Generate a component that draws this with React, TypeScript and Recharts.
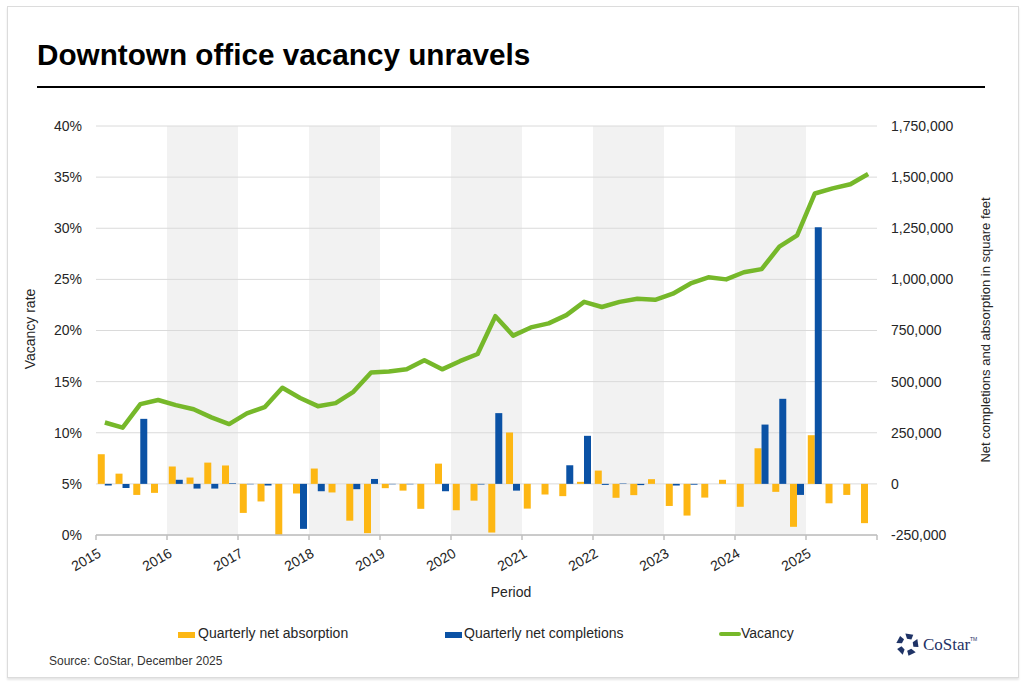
import { ComposedChart, Bar, Line, XAxis, YAxis, CartesianGrid } from 'recharts';

// quarterly series, 2015 Q1 .. 2025 Q4
const years = ['2015', '2016', '2017', '2018', '2019', '2020', '2021', '2022', '2023', '2024', '2025'];
const quarters = years.flatMap((y) => ['Q1', 'Q2', 'Q3', 'Q4'].map((q) => `${y} ${q}`));

// vacancy rate, %
const vacancy = [
  11.0, 10.5, 12.8, 13.2,
  12.7, 12.3, 11.5, 10.85,
  11.9, 12.5, 14.4, 13.4,
  12.6, 12.9, 14.0, 15.9,
  16.0, 16.2, 17.1, 16.2,
  17.0, 17.7, 21.4, 19.5,
  20.3, 20.7, 21.5, 22.8,
  22.3, 22.8, 23.1, 23.0,
  23.6, 24.6, 25.2, 25.0,
  25.7, 26.0, 28.2, 29.3,
  33.4, 33.9, 34.3, 35.3,
];

// square feet
const absorption = [
  145000, 50000, -54000, -44000,
  85000, 31000, 104000, 90000,
  -142000, -86000, -250000, -47000,
  75000, -42000, -180000, -241000,
  -21000, -33000, -122000, 99000,
  -129000, -82000, -238000, 251000,
  -121000, -52000, -60000, 10000,
  65000, -68000, -55000, 23000,
  -108000, -155000, -67000, 20000,
  -112000, 174000, -39000, -210000,
  238000, -95000, -54000, -192000,
];

const completions = [
  -8000, -20000, 318000, 0,
  20000, -23000, -23000, 3000,
  -2000, -8000, 0, -220000,
  -36000, 0, -26000, 24000,
  -2000, -2000, 0, -36000,
  0, -3000, 346000, -33000,
  0, 0, 91000, 235000,
  -5000, 2000, -6000, 0,
  -8000, -4000, 0, 0,
  0, 290000, 416000, -54000,
  1255000, 0, 0, 0,
];

const pctTicks = [0, 5, 10, 15, 20, 25, 30, 35, 40];
const sqftTicks = [-250000, 0, 250000, 500000, 750000, 1000000, 1250000, 1500000, 1750000];
const yearTicks = [0, 4, 8, 12, 16, 20, 24, 28, 32, 36, 40, 44];

const YELLOW = '#FDB714';
const BLUE = '#0B52A5';
const GREEN = '#76B82A';
const FONT = 'Arial, "Liberation Sans", sans-serif';

const data = quarters.map((q, i) => ({
  q,
  pos: i,
  vacancy: vacancy[i],
  absorption: absorption[i],
  completions: completions[i],
}));

function YearTick({ x, y, payload }: any) {
  const label = years[payload.value / 4];
  if (!label) return null;
  const ax = x + 6;
  const ay = y + 16;
  return (
    <text x={ax} y={ay} textAnchor="end" fontSize={14} fill="#262626" fontFamily={FONT}
      transform={`rotate(-30, ${ax}, ${ay})`}>
      {label}
    </text>
  );
}

function Logo() {
  const cx = 907.5, cy = 644.5;
  return (
    <svg width={1024} height={683} style={{ position: 'absolute', left: 0, top: 0, pointerEvents: 'none' }}>
      {[0, 72, 144, 216, 288].map((a) => (
        <polygon key={a} points={`${cx - 4},${cy - 10.5} ${cx + 4},${cy - 10.5} ${cx + 3},${cy - 5.5} ${cx - 1.5},${cy - 5.5}`}
          fill="#1F3366" transform={`rotate(${a + 10}, ${cx}, ${cy})`} />
      ))}
      <text x={923} y={650} fontSize={17} fontFamily='"Liberation Serif", "Times New Roman", serif' fill="#1F3366">CoStar</text>
      <text x={970} y={641} fontSize={5} fontFamily={FONT} fill="#1F3366">TM</text>
    </svg>
  );
}

export default function App() {
  return (
    <div style={{ position: 'relative', width: 1024, height: 683, background: '#fff', fontFamily: FONT, color: '#262626' }}>
      <style>{'body{margin:0}'}</style>
      <div style={{ position: 'absolute', left: 7, top: 6, width: 1010, height: 670, border: '1px solid #dcdcdc', boxShadow: '0 2px 2px #e6e6e6' }} />
      <div style={{ position: 'absolute', left: 37, top: 38, fontSize: 29.7, fontWeight: 700, color: '#000', lineHeight: '34px', whiteSpace: 'nowrap' }}>
        Downtown office vacancy unravels
      </div>
      <div style={{ position: 'absolute', left: 37, top: 86, width: 948, height: 1.5, background: '#000' }} />

      <div style={{ position: 'absolute', left: 0, top: 0 }}>
        <ComposedChart width={1024} height={683} data={data}
          margin={{ top: 126, right: 47, left: 46, bottom: 88 }}
          barCategoryGap="10%" barGap={0}>
          <CartesianGrid xAxisId="yr" yAxisId="left" horizontal={false} vertical stroke="none"
            verticalFill={['#ffffff', '#f2f2f2']} fillOpacity={1} />
          <CartesianGrid xAxisId="yr" yAxisId="left" vertical={false} stroke="#dadada" strokeWidth={1} />
          <XAxis xAxisId="yr" dataKey="pos" type="number" domain={[0, 44]} ticks={yearTicks} interval={0}
            allowDataOverflow height={60} tickSize={5} tickMargin={0}
            stroke="#bfbfbf" strokeWidth={1.5} tick={<YearTick />} />
          <XAxis xAxisId="cat" dataKey="q" type="category" hide height={0} />
          <YAxis yAxisId="left" orientation="left" width={50} domain={[0, 40]} ticks={pctTicks}
            interval={0} tickFormatter={(v: number) => `${v}%`} axisLine={false} tickLine={false}
            tickSize={0} tickMargin={14} tick={{ fontSize: 14, fill: '#262626', fontFamily: FONT }} />
          <YAxis yAxisId="right" orientation="right" width={100} domain={[-250000, 1750000]} ticks={sqftTicks}
            interval={0} tickFormatter={(v: number) => v.toLocaleString('en-US')} axisLine={false} tickLine={false}
            tickSize={0} tickMargin={14} tick={{ fontSize: 14, fill: '#262626', fontFamily: FONT }} />
          <Bar xAxisId="cat" yAxisId="right" dataKey="absorption" fill={YELLOW} isAnimationActive={false} />
          <Bar xAxisId="cat" yAxisId="right" dataKey="completions" fill={BLUE} isAnimationActive={false} />
          <Line xAxisId="cat" yAxisId="left" dataKey="vacancy" type="linear" stroke={GREEN} strokeWidth={4.5}
            dot={false} activeDot={false} strokeLinejoin="round" isAnimationActive={false} />
        </ComposedChart>
      </div>

      <div style={{ position: 'absolute', left: 30, top: 329, transform: 'translate(-50%, -50%) rotate(-90deg)', fontSize: 14, whiteSpace: 'nowrap' }}>
        Vacancy rate
      </div>
      <div style={{ position: 'absolute', left: 985, top: 330, transform: 'translate(-50%, -50%) rotate(-90deg)', fontSize: 13, whiteSpace: 'nowrap' }}>
        Net completions and absorption in square feet
      </div>
      <div style={{ position: 'absolute', left: 511, top: 592, transform: 'translate(-50%, -50%)', fontSize: 14 }}>
        Period
      </div>

      <div style={{ position: 'absolute', left: 178, top: 632, width: 17, height: 6, background: YELLOW }} />
      <div style={{ position: 'absolute', left: 198, top: 633, transform: 'translateY(-50%)', fontSize: 14, whiteSpace: 'nowrap' }}>Quarterly net absorption</div>
      <div style={{ position: 'absolute', left: 445, top: 632, width: 17, height: 6, background: BLUE }} />
      <div style={{ position: 'absolute', left: 464, top: 633, transform: 'translateY(-50%)', fontSize: 14, whiteSpace: 'nowrap' }}>Quarterly net completions</div>
      <div style={{ position: 'absolute', left: 719, top: 632, width: 22, height: 4, borderRadius: 2, background: GREEN }} />
      <div style={{ position: 'absolute', left: 741, top: 633, transform: 'translateY(-50%)', fontSize: 14, whiteSpace: 'nowrap' }}>Vacancy</div>

      <div style={{ position: 'absolute', left: 49, top: 661, transform: 'translateY(-50%)', fontSize: 12, color: '#333', whiteSpace: 'nowrap' }}>
        Source: CoStar, December 2025
      </div>
      <Logo />
    </div>
  );
}
